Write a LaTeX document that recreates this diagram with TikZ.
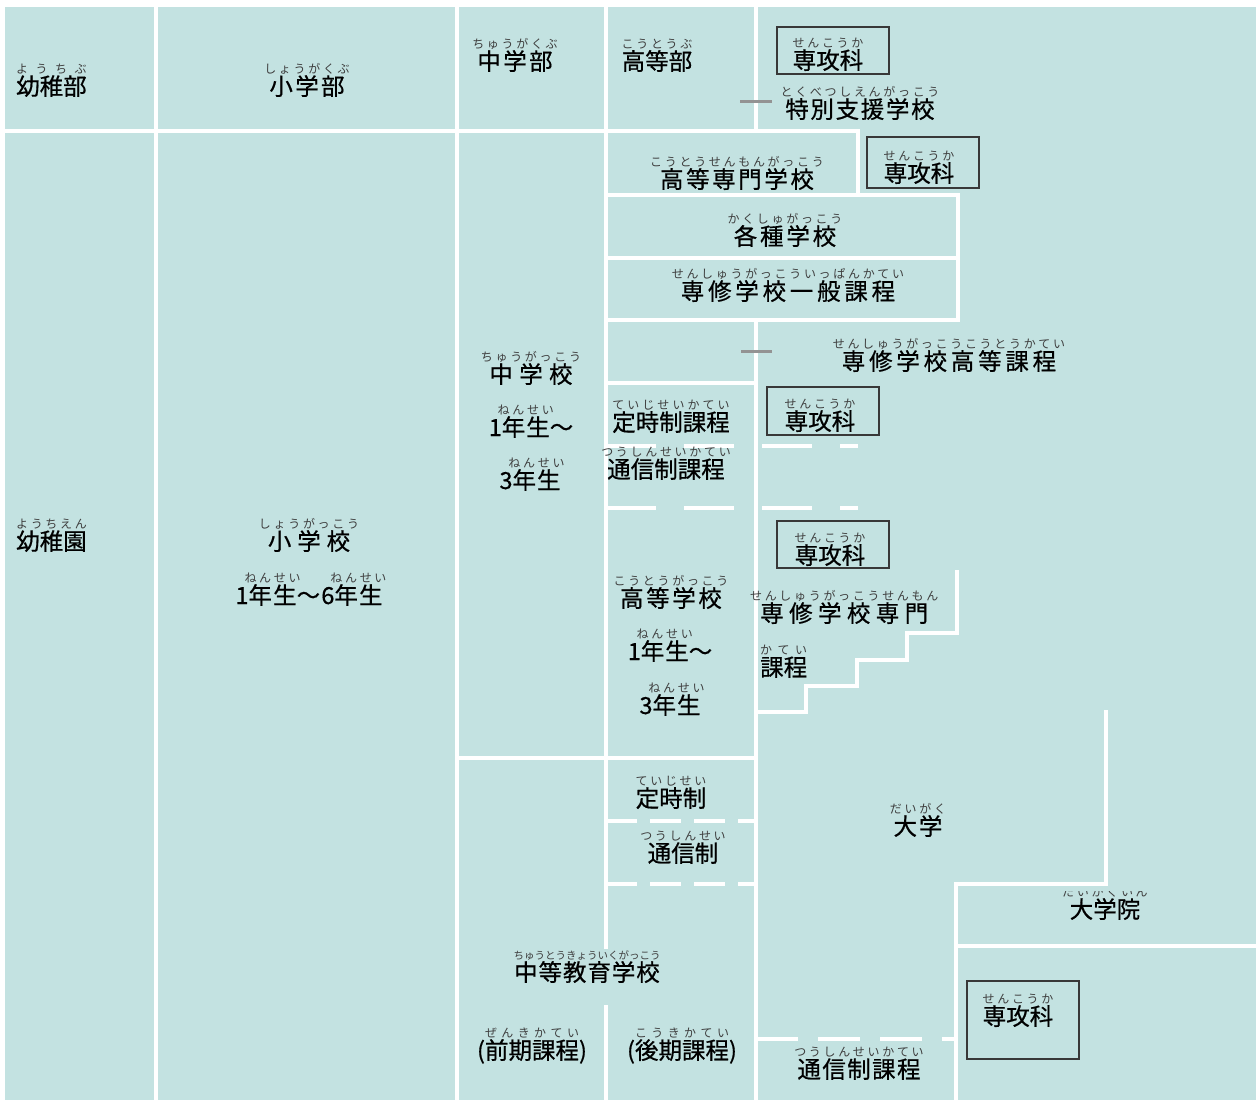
\documentclass[tikz,border=0pt]{standalone}
\usepackage{fontspec}
\setmainfont{Noto Sans CJK JP}
\newfontfamily\jpfont[FakeBold=0.6]{Noto Sans CJK JP}
\newfontfamily\rubyfont{Noto Sans CJK JP}
\definecolor{pool}{HTML}{C3E2E1}
\definecolor{rubygray}{HTML}{3E3E3E}
\definecolor{frame}{HTML}{383838}
\hbadness=10000

% furigana over a word
\newsavebox\rbbase
\newsavebox\rbtop
\newcommand\ruby[3][12]{%
  \sbox\rbbase{#2}%
  \sbox\rbtop{\rubyfont\fontsize{#1}{#1}\selectfont\color{rubygray}#3}%
  \ifdim\wd\rbtop<\wd\rbbase
    \sbox\rbtop{\rubyfont\fontsize{#1}{#1}\selectfont\color{rubygray}\hbox to\wd\rbbase{#3}}%
  \fi
  \leavevmode\rlap{\hbox to\wd\rbbase{\hss\raisebox{22pt}{\usebox\rbtop}\hss}}\usebox\rbbase}

\tikzset{
  wall/.style={white, line width=4.5pt, line cap=rect},
  dwall/.style 2 args={white, line width=4.5pt, dash pattern=on #1pt off #2pt},
  lbl/.style={inner sep=0pt, anchor=base, font=\jpfont\fontsize{23.5}{26}\selectfont},
  lsp/.style={lbl, font=\jpfont\fontsize{23.5}{26}\selectfont\addfontfeature{LetterSpace=#1}},
  senbox/.style={draw=frame, line width=2pt, anchor=north west, inner sep=0pt,
    minimum width=112pt, minimum height=#1pt},
  stub/.style={gray!85, line width=3pt}
}

\begin{document}
\begin{tikzpicture}[x=1pt,y=-1pt]
  \useasboundingbox (0,0) rectangle (1259,1100);
  \fill[white] (0,0) rectangle (1259,1100);
  \fill[pool] (5,7) rectangle (1256,1100);

  % walls between the schools
  \draw[wall] (156,7) -- (156,1100);
  \draw[wall] (457,7) -- (457,1100);
  \draw[wall] (606,7) -- (606,947) (606,1007) -- (606,1100);
  \draw[wall] (756,7) -- (756,131) (756,320) -- (756,1100);
  \draw[wall] (5,131) -- (858,131) -- (858,195);
  \draw[wall] (606,195) -- (958,195) -- (958,320) -- (606,320);
  \draw[wall] (606,258) -- (958,258);
  \draw[wall] (606,383) -- (756,383);
  \draw[wall] (457,758) -- (756,758);
  \draw[wall] (957,572) -- (957,633) -- (907,633) -- (907,660) -- (857,660)
    -- (857,686) -- (806,686) -- (806,712) -- (756,712);
  \draw[wall] (1106,712) -- (1106,884) -- (956,884) -- (956,1100);
  \draw[wall] (956,946) -- (1256,946);
  \draw[dwall={50}{28}] (606,446) -- (858,446) (606,508) -- (858,508);
  \draw[dwall={31}{13}] (606,821) -- (756,821) (606,884) -- (756,884);
  \draw[dwall={42}{20}] (756,1039) -- (956,1039);

  \draw[stub] (740,101) -- (772,101);
  \draw[stub] (741,351) -- (772,351);

  % top row
  \node[lbl, anchor=base west] (yochibu) at (16,95) {\ruby{幼稚部}{よ う ち ぶ}};
  \node[lsp=10] (shogakubu) at (307,95) {\ruby{小学部}{し ょ う が く ぶ}};
  \node[lsp=10] (chugakubu) at (515,70) {\ruby{中学部}{ち ゅ う が く ぶ}};
  \node[lbl] (kotobu) at (657,70) {\ruby{高等部}{こ う と う ぶ}};
  \node[senbox=47] (senbox1) at (776,26) {};
  \node[lbl] (senko1) at (828,69) {\ruby{専攻科}{せ ん こ う か}};
  \node[lsp=7] (tokubetsu) at (860,118) {\ruby{特別支援学校}{と く べ つ し え ん が っ こ う}};

  % after chugakko
  \node[lsp=11] (kosen) at (737,188) {\ruby{高等専門学校}{こ う と う せ ん も ん が っ こ う}};
  \node[senbox=51] (senbox2) at (866,136) {};
  \node[lbl] (senko2) at (919,182) {\ruby{専攻科}{せ ん こ う か}};
  \node[lsp=12] (kakushu) at (785,245) {\ruby{各種学校}{か く し ゅ が っ こ う}};
  \node[lsp=16] (ippan) at (788,300) {\ruby{専修学校一般課程}{せ ん し ゅ う が っ こ う い っ ぱ ん か て い}};
  \node[lsp=16] (kotokatei) at (949,370) {\ruby{専修学校高等課程}{せ ん し ゅ う が っ こ う こ う と う か て い}};

  \node[lsp=27] (chugakko) at (531,383) {\ruby{中学校}{ち ゅ う が っ こ う}};
  \node[lsp=4] (chu1) at (531,436) {1\ruby{年生}{ね ん せ い}〜};
  \node[lsp=4] (chu3) at (530,489) {3\ruby{年生}{ね ん せ い}};

  \node[lbl] (teiji1) at (671,431) {\ruby{定時制課程}{て い じ せ い か て い}};
  \node[lbl] (tsushin1) at (666,478) {\ruby{通信制課程}{つ う し ん せ い か て い}};
  \node[senbox=48] (senbox3) at (766,386) {};
  \node[lbl] (senko3) at (820,430) {\ruby{専攻科}{せ ん こ う か}};
  \node[senbox=47] (senbox4) at (776,520) {};
  \node[lbl] (senko4) at (830,564) {\ruby{専攻科}{せ ん こ う か}};

  \node[lsp=11] (kotogakko) at (671,607) {\ruby{高等学校}{こ う と う が っ こ う}};
  \node[lsp=4] (ko1) at (670,660) {1\ruby{年生}{ね ん せ い}〜};
  \node[lsp=4] (ko3) at (670,714) {3\ruby{年生}{ね ん せ い}};
  \node[lsp=23, anchor=base west] (senmon) at (760,622) {\ruby{専修学校専門}{せ ん し ゅ う が っ こ う せ ん も ん}};
  \node[lbl, anchor=base west] (senmonkatei) at (760,676) {\ruby{課程}{か て い}};

  % left columns
  \node[lbl, anchor=base west] (yochien) at (16,550) {\ruby{幼稚園}{よ う ち え ん}};
  \node[lsp=25] (shogakko) at (309,550) {\ruby{小学校}{し ょ う が っ こ う}};
  \node[lsp=5] (sho16) at (309,604) {1\ruby{年生}{ね ん せ い}〜6\ruby{年生}{ね ん せ い}};

  % lower part
  \node[lbl] (teiji2) at (671,807) {\ruby{定時制}{て い じ せ い}};
  \node[lbl] (tsushin2) at (683,862) {\ruby{通信制}{つ う し ん せ い}};
  \node[lsp=8] (daigaku) at (918,835) {\ruby{大学}{だ い が く}};
  \begin{scope}
    \clip (960,891) rectangle (1250,940);
    \node[lbl] (daigakuin) at (1105,918) {\ruby{大学院}{だ い が く い ん}};
  \end{scope}
  \node[lsp=4] (chuto) at (587,981) {\ruby[10.5]{中等教育学校}{ちゅうとうきょういくがっこう}};
  \node[lbl] (zenki) at (532,1059) {(\ruby{前期課程}{ぜ ん き か て い})};
  \node[lbl] (koki) at (682,1059) {(\ruby{後期課程}{こ う き か て い})};
  \node[lsp=6] (tsushin3) at (859,1078) {\ruby{通信制課程}{つ う し ん せ い か て い}};
  \node[senbox=78] (senbox5) at (966,980) {};
  \node[lbl] (senko5) at (1018,1025) {\ruby{専攻科}{せ ん こ う か}};
\end{tikzpicture}
\end{document}
